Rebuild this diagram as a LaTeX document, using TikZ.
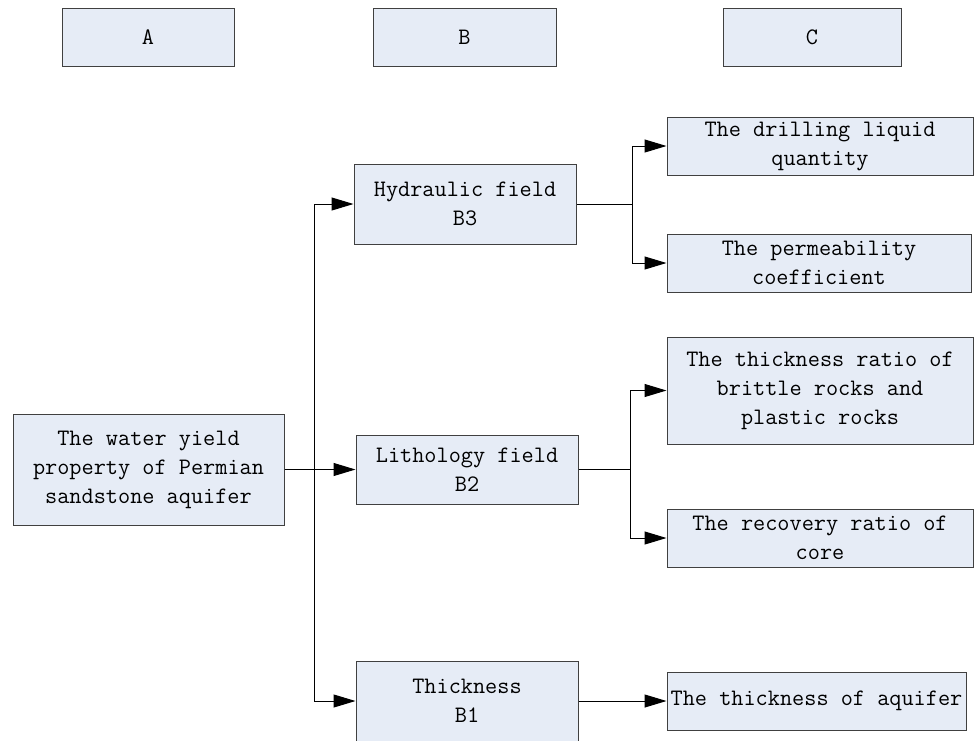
\documentclass[tikz,border=0pt]{standalone}
\usepackage{fontspec}
\usetikzlibrary{arrows.meta}
\definecolor{boxfill}{HTML}{E6ECF6}
\definecolor{boxline}{HTML}{404040}
\tikzset{
  box/.style={draw=boxline, fill=boxfill, line width=1pt, inner sep=0pt, align=center,
    font=\fontsize{23.6}{29}\selectfont\ttfamily},
  arr/.style={line width=1pt, -{Triangle[length=22pt,width=13pt]}},
  ln/.style={line width=1pt}
}
\begin{document}
\begin{tikzpicture}[x=1pt,y=-1pt]
\useasboundingbox (0,0) rectangle (975,740);
\clip (0,0) rectangle (975,740);
\fill[white] (0,0) rectangle (975,740);
% header
\node[box, minimum width=172pt, minimum height=58pt] (ha) at (148,37) {A};
\node[box, minimum width=183pt, minimum height=58pt] (hb) at (464.5,37) {B};
\node[box, minimum width=178pt, minimum height=58pt] (hc) at (812,37) {C};
% main
\node[box, minimum width=271pt, minimum height=111pt] (main) at (148.5,469.5) {The water yield\\property of Permian\\sandstone aquifer};
% B level
\node[box, minimum width=222pt, minimum height=80pt] (b3) at (465,204) {Hydraulic field\\B3};
\node[box, minimum width=222pt, minimum height=69pt] (b2) at (467,469.5) {Lithology field\\B2};
\node[box, minimum width=222pt, minimum height=80pt] (b1) at (467,701) {Thickness\\B1};
% C level
\node[box, minimum width=306pt, minimum height=58pt] (c1) at (820,146) {The drilling liquid\\quantity};
\node[box, minimum width=304pt, minimum height=58pt] (c2) at (819,263) {The permeability\\coefficient};
\node[box, minimum width=306pt, minimum height=107pt] (c3) at (820,390.5) {The thickness ratio of\\brittle rocks and\\plastic rocks};
\node[box, minimum width=306pt, minimum height=58pt] (c4) at (820,538) {The recovery ratio of\\core};
\node[box, minimum width=299pt, minimum height=58pt] (c5) at (816.5,701) {The thickness of aquifer};
% connectors
\coordinate (j) at (314,469.5);
\draw[ln] (main.east) -- (j);
\draw[arr] (j) |- (b3.west);
\draw[arr] (j) |- (b1.west);
\draw[arr] (main.east) -- (b2.west);
\coordinate (k3) at (632,204);
\draw[ln] (b3.east) -- (k3);
\draw[arr] (k3) |- (c1.west);
\draw[arr] (k3) |- (c2.west);
\coordinate (k2) at (630,469.5);
\draw[ln] (b2.east) -- (k2);
\draw[arr] (k2) |- (c3.west);
\draw[arr] (k2) |- (c4.west);
\draw[arr] (b1.east) -- (c5.west);
\end{tikzpicture}
\end{document}
